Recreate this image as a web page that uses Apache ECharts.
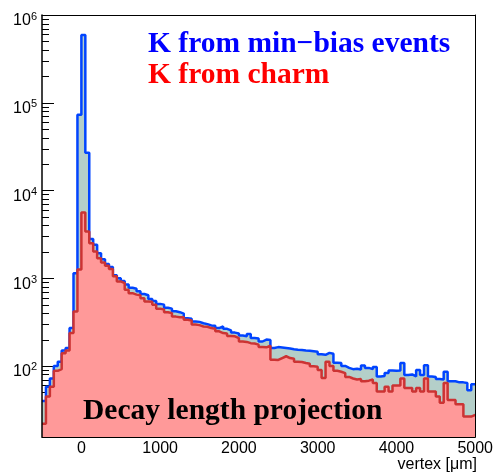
<!DOCTYPE html>
<html><head><meta charset="utf-8">
<script src="https://cdn.jsdelivr.net/npm/echarts@6/dist/echarts.min.js"></script>
<style>html,body{margin:0;padding:0;background:#fff}#c{width:496px;height:476px}</style>
</head><body><div id="c"></div>
<script>
// histogram binning (µm)
const binStart = -500;
const binWidth = 50;

// K from min-bias events (counts per bin)
const minBias = [
  40, 58, 72, 100, 112, 150, 160, 270, 1140, 73000,
  590000, 27000, 2800, 2400, 1930, 1650, 1450, 1340, 1080, 1000,
  930, 850, 780, 760, 710, 660, 640, 580, 550, 510,
  500, 460, 450, 420, 410, 395, 350, 345, 322, 318,
  307, 300, 290, 288, 270, 282, 265, 254, 240, 235,
  222, 218, 232, 208, 205, 190, 200, 198, 160, 164,
  162, 160, 158, 155, 153, 152, 150, 149, 147, 145,
  136, 134, 141, 138, 109, 108, 100, 95, 92, 93,
  91, 101, 95, 92, 97, 76, 77, 83, 89, 88,
  89, 108, 79, 80, 76, 90, 79, 102, 76, 75,
  71, 70, 86, 67, 67, 65, 65, 64, 53, 62
];

// K from charm (counts per bin)
const charm = [
  22, 45, 58, 88, 92, 140, 150, 237, 418, 1260,
  5600, 3400, 2500, 2020, 1690, 1510, 1390, 1270, 1050, 920,
  880, 740, 675, 650, 640, 590, 543, 540, 500, 450,
  440, 410, 400, 365, 360, 358, 336, 330, 296, 292,
  282, 280, 270, 266, 248, 237, 235, 220, 218, 207,
  190, 188, 182, 180, 175, 164, 163, 170, 118, 117,
  123, 129, 123, 121, 112, 111, 108, 106, 99, 98,
  90, 73, 112, 100, 88, 86, 83, 75, 72, 70,
  71, 67, 68, 70, 64, 51, 51, 58, 51, 60,
  60, 72, 56, 56, 51, 56, 51, 72, 51, 51,
  45, 38, 64, 41, 41, 36.5, 36.5, 26.5, 26.5, 27.7
];

const xTickLabels = [0, 1000, 2000, 3000, 4000, 5000];
const yMajorTicks = [100, 1000, 10000, 100000, 1000000];
const yMinorTicks = [
  20, 30, 40, 50, 60, 70, 80, 90,
  200, 300, 400, 500, 600, 700, 800, 900,
  2000, 3000, 4000, 5000, 6000, 7000, 8000, 9000,
  20000, 30000, 40000, 50000, 60000, 70000, 80000, 90000,
  200000, 300000, 400000, 500000, 600000, 700000, 800000, 900000
];
const legendTexts = ['K from min\u2212bias events', 'K from charm'];
const plotTitle = 'Decay length projection';
const xAxisTitle = 'vertex [\u03bcm]';

const X_MIN = -500, X_MAX = 5000, Y_MIN = 15.5, Y_MAX = 1e6;

function toSteps(arr) {
  const pts = arr.map((v, i) => [binStart + i * binWidth, v]);
  pts.push([binStart + arr.length * binWidth, arr[arr.length - 1]]);
  return pts;
}

const chart = echarts.init(document.getElementById('c'), null, {renderer: 'canvas'});
const option = {
  animation: false,
  backgroundColor: '#fff',
  grid: {left: 42, right: 19, top: 15, bottom: 39},
  title: [
    {text: legendTexts[0], left: 148, top: 29, padding: 0,
     textStyle: {fontFamily: 'Liberation Serif', fontWeight: 'bold', fontSize: 29.5, color: '#0000ff'}},
    {text: legendTexts[1], left: 148, top: 60, padding: 0,
     textStyle: {fontFamily: 'Liberation Serif', fontWeight: 'bold', fontSize: 29.5, color: '#ff0000'}},
    {text: plotTitle, left: 83, top: 396, padding: 0,
     textStyle: {fontFamily: 'Liberation Serif', fontWeight: 'bold', fontSize: 29.5, color: '#000'}},
    {text: xAxisTitle, right: 19, top: 457, padding: 0,
     textStyle: {fontFamily: 'Liberation Sans', fontWeight: 'normal', fontSize: 16, color: '#000'}}
  ],
  xAxis: [
    {type: 'value', min: X_MIN, max: X_MAX, z: 10,
     axisLine: {show: true, onZero: false, lineStyle: {color: '#000', width: 1}},
     axisTick: {show: false}, splitLine: {show: false},
     axisLabel: {customValues: xTickLabels, formatter: v => String(v),
       fontFamily: 'Liberation Sans', fontSize: 16, color: '#000', margin: 4}},
    {type: 'value', min: X_MIN, max: X_MAX, position: 'top', z: 10,
     axisLine: {show: true, onZero: false, lineStyle: {color: '#000', width: 1}},
     axisTick: {show: false}, axisLabel: {show: false}, splitLine: {show: false}}
  ],
  yAxis: [
    {type: 'log', logBase: 10, min: Y_MIN, max: Y_MAX, position: 'left', offset: 0, z: 10,
     splitLine: {show: false},
     axisLine: {show: true, onZero: false, lineStyle: {color: '#000', width: 1.5}},
     axisTick: {show: false},
     axisLabel: {customValues: yMajorTicks, margin: 5,
       formatter: v => '{b|10}{s|' + Math.round(Math.log10(v)) + '}',
       rich: {
         b: {fontFamily: 'Liberation Sans', fontSize: 16, lineHeight: 16, color: '#000', padding: [6, 0, 0, 0], verticalAlign: 'top'},
         s: {fontFamily: 'Liberation Sans', fontSize: 11, lineHeight: 11, color: '#000', padding: [4, 0, 0, 0], verticalAlign: 'top'}
       }}},
    {type: 'log', logBase: 10, min: Y_MIN, max: Y_MAX, position: 'right', offset: 0, z: 10,
     splitLine: {show: false},
     axisLine: {show: true, onZero: false, lineStyle: {color: '#000', width: 1}},
     axisTick: {show: false}, axisLabel: {show: false}}
  ],
  series: [
    {type: 'line', name: legendTexts[0], xAxisIndex: 0, yAxisIndex: 0, data: toSteps(minBias), step: 'end',
     showSymbol: false, symbol: 'none', z: 2,
     lineStyle: {color: '#0044ff', width: 2.5},
     areaStyle: {color: '#b4cfc9', opacity: 1}},
    {type: 'line', name: legendTexts[1], xAxisIndex: 0, yAxisIndex: 0, data: toSteps(charm), step: 'end',
     showSymbol: false, symbol: 'none', z: 3,
     lineStyle: {color: '#cc3333', width: 2.5},
     areaStyle: {color: '#ff9999', opacity: 1}}
  ]
};
chart.setOption(option);

// inward tick marks on the left axis, positioned through the log axis scale
function tickElements(vals, len) {
  return vals.map(v => {
    const p = chart.convertToPixel({xAxisIndex: 0, yAxisIndex: 0}, [X_MIN, v]);
    const y = Math.round(p[1]) + 0.5;
    return {type: 'line', silent: true, z: 1,
            shape: {x1: p[0], y1: y, x2: p[0] + len, y2: y},
            style: {stroke: '#000', lineWidth: 1}};
  });
}
chart.setOption({graphic: {elements: tickElements(yMajorTicks, 12).concat(tickElements(yMinorTicks, 7))}});
</script>
</body></html>
